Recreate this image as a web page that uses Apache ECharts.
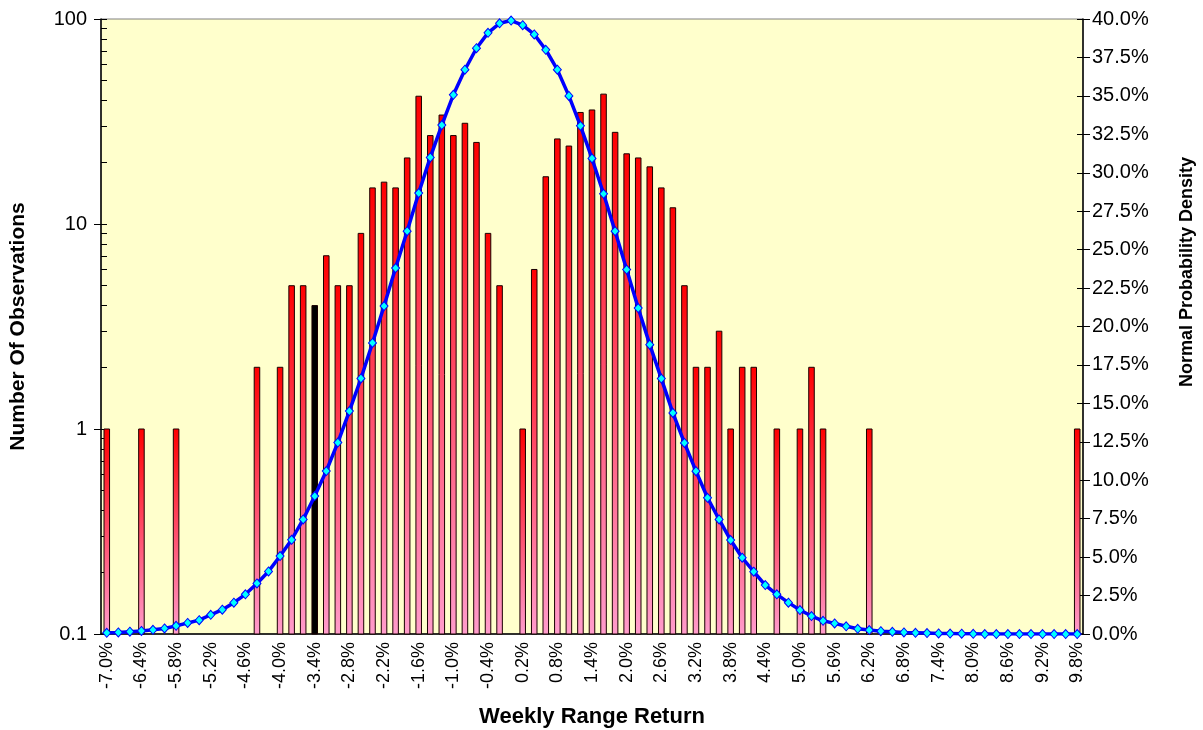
<!DOCTYPE html>
<html>
<head>
<meta charset="utf-8">
<script src="https://cdn.jsdelivr.net/npm/echarts@6/dist/echarts.min.js"></script>
<style>
  html, body { margin: 0; padding: 0; background: #fff; }
  #chart { width: 1203px; height: 730px; }
</style>
</head>
<body>
<div id="chart"></div>
<script>
// weekly range return buckets, 0.2% wide
const returnLabels = [
  '-7.0%', '-6.8%', '-6.6%', '-6.4%', '-6.2%', '-6.0%', '-5.8%', '-5.6%', '-5.4%', '-5.2%',
  '-5.0%', '-4.8%', '-4.6%', '-4.4%', '-4.2%', '-4.0%', '-3.8%', '-3.6%', '-3.4%', '-3.2%',
  '-3.0%', '-2.8%', '-2.6%', '-2.4%', '-2.2%', '-2.0%', '-1.8%', '-1.6%', '-1.4%', '-1.2%',
  '-1.0%', '-0.8%', '-0.6%', '-0.4%', '-0.2%', '0.0%', '0.2%', '0.4%', '0.6%', '0.8%',
  '1.0%', '1.2%', '1.4%', '1.6%', '1.8%', '2.0%', '2.2%', '2.4%', '2.6%', '2.8%',
  '3.0%', '3.2%', '3.4%', '3.6%', '3.8%', '4.0%', '4.2%', '4.4%', '4.6%', '4.8%',
  '5.0%', '5.2%', '5.4%', '5.6%', '5.8%', '6.0%', '6.2%', '6.4%', '6.6%', '6.8%',
  '7.0%', '7.2%', '7.4%', '7.6%', '7.8%', '8.0%', '8.2%', '8.4%', '8.6%', '8.8%',
  '9.0%', '9.2%', '9.4%', '9.6%', '9.8%'
]

// number of observations per bucket (0 = no bar)
const observations = [
  1, 0, 0, 1, 0, 0, 1, 0, 0, 0,
  0, 0, 0, 2, 0, 2, 5, 5, 4, 7,
  5, 5, 9, 15, 16, 15, 21, 42, 27, 34,
  27, 31, 25, 9, 5, 0, 1, 6, 17, 26,
  24, 35, 36, 43, 28, 22, 21, 19, 15, 12,
  5, 2, 2, 3, 1, 2, 2, 0, 1, 0,
  1, 2, 1, 0, 0, 0, 1, 0, 0, 0,
  0, 0, 0, 0, 0, 0, 0, 0, 0, 0,
  0, 0, 0, 0, 1
]

// normal probability density (%)
const normalDensity = [
  0.08, 0.10, 0.15, 0.20, 0.27, 0.36, 0.53, 0.72, 0.90, 1.25,
  1.58, 2.04, 2.58, 3.29, 4.07, 5.07, 6.13, 7.45, 8.97, 10.6,
  12.45, 14.5, 16.62, 18.93, 21.33, 23.8, 26.2, 28.68, 31.0, 33.1,
  35.07, 36.7, 38.1, 39.1, 39.72, 39.9, 39.6, 39.0, 38.0, 36.7,
  35.0, 33.05, 30.93, 28.63, 26.2, 23.7, 21.2, 18.82, 16.61, 14.38,
  12.43, 10.59, 8.86, 7.45, 6.11, 4.96, 4.05, 3.18, 2.58, 2.04,
  1.56, 1.17, 0.86, 0.69, 0.50, 0.34, 0.26, 0.18, 0.14, 0.10,
  0.08, 0.06, 0.04, 0.03, 0.02, 0.01, 0, 0, 0, 0,
  0, 0, 0, 0, 0
]

const highlightBucket = '-3.4%'

// log axis minor ticks (2..9 in each decade)
const logTicks = [0.1, 0.2, 0.3, 0.4, 0.5, 0.6, 0.7, 0.8, 0.9,
  1, 2, 3, 4, 5, 6, 7, 8, 9, 10, 20, 30, 40, 50, 60, 70, 80, 90, 100]

const FONT = 'Liberation Sans, Arial, sans-serif'

const barData = []
observations.forEach((v, i) => { if (v > 0) barData.push([i, v]) })

const chart = echarts.init(document.getElementById('chart'))

const barFill = new echarts.graphic.LinearGradient(0, 0, 0, 1, [
  { offset: 0, color: '#ff0000' },
  { offset: 0.5, color: '#ff4d6a' },
  { offset: 1, color: '#ff9ccc' }
])

chart.setOption({
  animation: false,
  backgroundColor: '#ffffff',
  grid: {
    left: 101, top: 19, width: 982, height: 615,
    outerBoundsMode: 'none',
    containLabel: false,
    show: true, backgroundColor: '#ffffcc', borderColor: '#808080', borderWidth: 1
  },
  xAxis: {
    type: 'category',
    data: returnLabels,
    boundaryGap: true,
    name: 'Weekly Range Return',
    nameLocation: 'middle',
    nameGap: 72,
    nameTextStyle: { fontFamily: FONT, fontWeight: 'bold', fontSize: 22, color: '#000' },
    axisLine: { onZero: false, lineStyle: { color: '#000', width: 1.5 } },
    axisTick: { interval: 2, length: 6, lineStyle: { color: '#000' } },
    axisLabel: { interval: 2, rotate: 90, margin: 8, fontFamily: FONT, fontSize: 18, color: '#000' },
    splitLine: { show: false }
  },
  yAxis: [
    {
      type: 'log', logBase: 10, min: 0.1, max: 100, position: 'left',
      name: 'Number Of Observations',
      nameLocation: 'middle',
      nameGap: 72,
      nameTextStyle: { fontFamily: FONT, fontWeight: 'bold', fontSize: 21, color: '#000' },
      axisLine: { show: true, onZero: false, lineStyle: { color: '#000', width: 1.5 } },
      axisTick: { show: true, length: 7, lineStyle: { color: '#000' } },
      axisLabel: { margin: 14, fontFamily: FONT, fontSize: 20, color: '#000',
        formatter: v => String(v) },
      splitLine: { show: false }
    },
    {
      // minor ticks inside the log axis, placed by log10 of the tick values
      type: 'value', min: -1, max: 2, position: 'left', offset: 0,
      axisLine: { show: false },
      axisTick: { show: true, inside: true, length: 6, lineStyle: { color: '#000' },
        customValues: logTicks.map(Math.log10) },
      axisLabel: { show: false },
      splitLine: { show: false }
    },
    {
      type: 'value', min: 0, max: 40, interval: 2.5, position: 'right',
      axisLine: { show: true, onZero: false, lineStyle: { color: '#000', width: 1.5 } },
      axisTick: { show: true, length: 7, lineStyle: { color: '#000' } },
      axisLabel: { margin: 9, fontFamily: FONT, fontSize: 20, color: '#000',
        formatter: v => v.toFixed(1) + '%' },
      splitLine: { show: false }
    },
    {
      type: 'value', min: 0, max: 40, interval: 2.5, position: 'right', offset: 0,
      axisLine: { show: false },
      axisTick: { show: true, inside: true, length: 6, lineStyle: { color: '#000' } },
      axisLabel: { show: false },
      splitLine: { show: false }
    }
  ],
  graphic: [{
    type: 'text',
    x: 1187, y: 272,
    rotation: Math.PI / 2,
    style: {
      text: 'Normal Probability Density',
      font: 'bold 18px ' + FONT,
      fill: '#000',
      align: 'center',
      verticalAlign: 'middle'
    }
  }],
  series: [
    {
      name: 'Number Of Observations',
      type: 'custom',
      xAxisIndex: 0,
      yAxisIndex: 0,
      data: barData,
      z: 2,
      renderItem: (params, api) => {
        const i = api.value(0)
        const top = api.coord([i, api.value(1)])
        const base = api.coord([i, 0.1])
        const band = api.size([1, 1], [i, 1])[0]
        const w = band * 0.48
        const isHighlight = returnLabels[i] === highlightBucket
        return {
          type: 'rect',
          shape: { x: top[0] - w / 2, y: top[1], width: w, height: base[1] - top[1] },
          style: {
            fill: isHighlight ? '#000000' : barFill,
            stroke: '#1a0000',
            lineWidth: 1
          }
        }
      }
    },
    {
      name: 'Normal Probability Density',
      type: 'line',
      yAxisIndex: 2,
      data: normalDensity,
      z: 5,
      symbol: 'diamond',
      symbolSize: [8, 9],
      showAllSymbol: true,
      lineStyle: { color: '#0000ff', width: 3.5 },
      itemStyle: { color: '#00ffff', borderColor: '#0000ff', borderWidth: 1 }
    }
  ]
})
</script>
</body>
</html>
